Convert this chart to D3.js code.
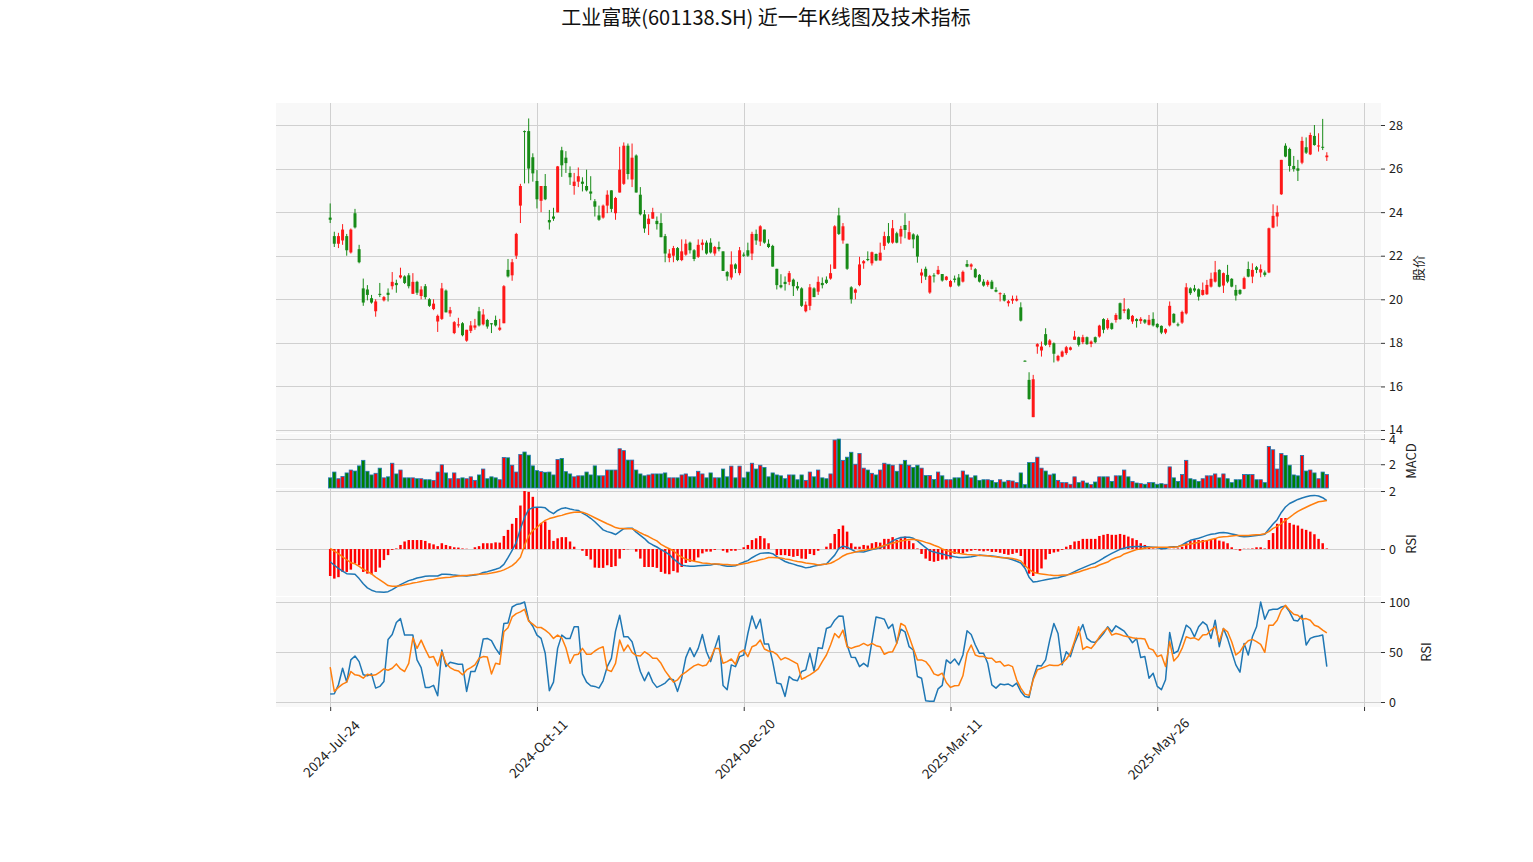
<!DOCTYPE html>
<html><head><meta charset="utf-8">
<script src="https://cdn.jsdelivr.net/npm/d3@7"></script>
<style>
body{margin:0;background:#fff;}
svg{display:block;}
text{font-family:"Noto Sans CJK SC","Noto Sans",sans-serif;}
</style>
</head><body>
<svg id="chart" width="1533" height="862"></svg>
<script>
const title = "工业富联(601138.SH) 近一年K线图及技术指标";
const xTickIndex = [0, 50, 100, 150, 200, 250];
const xTickLabels = ["2024-Jul-24", "2024-Oct-11", "2024-Dec-20", "2025-Mar-11", "2025-May-26", ""];
const priceTicks = [14, 16, 18, 20, 22, 24, 26, 28];
const volTicks = [2, 4];
const macdTicks = [0, 2];
const rsiTicks = [0, 50, 100];

const opens = [23.75,22.9,22.55,22.7,22.9,22.15,23.95,22.3,20.5,20.45,
20.05,19.45,20.25,19.95,20.3,20.6,20.75,21.0,21.05,21.1,
20.25,20.8,20.15,20.6,20.0,19.55,18.98,19.1,20.4,19.35,
18.45,18.8,18.9,18.1,18.55,18.7,19.45,18.85,19.05,18.9,
19.05,18.6,18.9,21.35,21.1,22.0,24.3,27.72,27.72,26.52,
25.43,24.52,25.2,23.64,23.8,23.99,26.84,26.5,25.8,25.2,
25.4,25.4,25.2,24.95,24.5,23.85,23.75,24.3,25.0,23.95,
24.9,25.3,27.05,25.5,26.6,24.8,23.9,23.45,23.7,23.6,
23.5,22.9,21.9,22.0,22.35,21.8,22.05,22.6,22.25,21.95,
22.5,22.6,22.6,22.1,22.4,22.2,21.25,21.0,21.6,21.2,
22.05,22.25,22.1,23.0,22.65,23.2,22.55,22.45,21.4,20.65,
20.8,20.8,20.9,20.6,20.5,19.45,19.7,20.5,20.35,20.75,
20.9,20.95,21.4,23.85,22.7,22.55,20.55,20.3,20.65,21.65,
21.85,21.65,22.08,21.78,22.45,22.9,22.6,23.03,22.88,23.41,
22.75,22.98,22.92,21.09,21.4,20.31,21.1,21.16,21.16,20.89,
20.58,20.95,21.0,20.81,21.62,21.5,21.38,21.12,20.81,20.66,
20.81,20.43,20.25,20.2,19.82,19.94,19.94,19.63,17.18,16.3,
14.59,17.83,17.65,18.4,17.91,17.98,17.19,17.37,17.53,17.68,
18.14,18.26,18.03,18.26,17.95,18.26,18.29,19.09,18.67,18.9,
19.05,19.82,19.47,19.54,18.98,19.09,19.0,19.06,18.83,19.1,
18.87,18.78,18.47,18.8,19.33,18.85,18.93,19.35,20.5,20.5,
20.46,20.2,20.23,20.58,20.81,21.35,20.63,21.12,20.94,20.43,
20.43,20.48,21.39,21.04,21.47,21.23,21.23,21.23,23.29,23.8,
24.82,27.05,26.9,26.12,26.01,26.27,26.98,26.65,27.5,27.03,
27.0,26.52];

const highs = [24.4,23.1,23.05,23.45,23.0,23.25,24.15,22.5,20.95,20.65,
20.2,20.0,20.75,20.15,20.5,21.25,20.9,21.45,21.1,21.2,
21.2,20.85,20.6,20.7,20.05,20.0,19.3,20.75,20.45,19.65,
19.0,19.15,18.95,18.6,19.0,19.1,19.65,19.55,19.1,18.9,
19.25,19.1,20.65,21.85,21.85,23.05,25.3,27.75,28.3,26.7,
25.93,25.2,25.75,24.1,24.2,26.12,27.0,26.8,26.1,25.8,
26.05,25.6,25.95,25.65,24.6,24.3,24.35,25.0,25.0,24.7,
27.0,27.2,27.15,27.15,26.65,25.15,24.1,23.9,24.2,23.8,
23.95,23.0,22.3,22.45,22.4,22.75,22.75,22.65,22.3,22.75,
22.75,22.7,22.8,22.45,22.65,22.2,21.3,22.2,21.65,22.4,
22.15,22.6,23.1,23.2,23.4,23.2,22.75,22.5,21.4,21.15,
21.05,21.3,20.95,20.8,20.55,19.9,20.7,20.55,21.05,21.0,
21.05,21.6,23.4,24.2,23.5,22.55,20.6,20.5,21.95,21.8,
22.2,22.19,22.1,22.6,23.1,23.5,23.64,23.1,23.37,23.95,
23.6,23.03,22.98,21.4,21.5,21.12,21.2,21.53,21.16,21.07,
20.89,21.09,21.16,21.32,21.8,21.65,21.43,21.16,20.92,20.89,
20.89,20.55,20.32,20.28,19.97,20.17,20.17,19.86,17.2,16.65,
16.53,17.98,18.06,18.67,18.17,18.02,17.45,17.65,17.86,17.83,
18.55,18.29,18.37,18.29,18.11,18.29,18.83,19.13,19.13,18.93,
19.36,19.85,20.05,19.59,19.28,19.13,19.18,19.09,19.28,19.4,
18.9,18.8,18.67,19.9,19.36,18.93,19.48,20.74,20.55,20.66,
20.5,20.77,20.89,21.22,21.76,21.38,21.23,21.58,20.97,20.66,
20.46,21.04,21.73,21.65,21.53,21.6,21.32,23.29,24.36,24.3,
26.4,27.16,26.96,26.58,26.4,27.46,27.43,27.65,28.0,27.62,
28.28,26.75];

const lows = [23.5,22.4,22.35,22.5,22.0,22.1,23.25,21.65,19.7,19.95,
19.8,19.2,20.1,19.9,19.9,20.45,20.3,20.95,20.7,20.5,
20.25,20.2,20.0,20.0,19.65,19.5,18.5,19.05,19.4,19.2,
18.4,18.7,18.3,18.05,18.45,18.6,18.75,18.8,18.65,18.45,
18.75,18.55,18.9,21.0,20.85,21.85,23.5,25.32,25.32,25.4,
24.17,24.0,24.55,23.2,23.6,23.99,25.62,25.8,25.25,24.8,
25.15,24.95,24.95,24.55,23.8,23.6,23.7,23.95,24.0,23.65,
24.9,25.25,25.5,25.15,24.9,23.85,23.05,22.95,23.7,23.2,
22.85,21.7,21.7,21.7,21.75,21.75,22.0,22.1,21.75,21.9,
22.25,22.05,22.1,22.0,22.2,21.3,20.85,20.9,21.2,21.1,
21.95,21.95,21.8,22.5,22.45,22.55,22.35,21.5,20.45,20.5,
20.4,20.65,20.15,20.4,19.65,19.4,19.5,20.1,20.2,20.5,
20.7,20.9,21.4,22.95,22.55,21.35,19.8,20.0,20.6,21.4,
21.75,21.55,21.75,21.78,22.27,22.55,22.55,22.57,22.55,22.8,
22.72,22.34,21.68,20.74,20.89,20.25,20.77,21.12,20.81,20.86,
20.55,20.77,20.58,20.77,21.47,21.35,20.97,20.77,20.58,20.58,
20.46,20.32,19.9,19.9,19.67,19.79,19.9,18.98,17.15,15.39,
14.59,17.5,17.37,17.86,17.8,17.1,17.14,17.34,17.45,17.65,
18.14,17.83,17.94,17.91,17.8,17.98,18.24,18.44,18.6,18.6,
18.93,19.06,19.36,19.06,18.87,18.7,18.87,18.87,18.8,18.75,
18.67,18.4,18.4,18.75,18.9,18.75,18.87,19.3,20.2,20.33,
19.94,20.17,20.2,20.54,20.77,20.55,20.29,20.74,20.55,19.94,
20.2,20.46,21.01,20.74,21.2,21.01,21.04,21.2,23.26,23.34,
24.79,26.52,25.86,25.86,25.43,26.2,26.67,26.62,27.05,26.78,
26.85,26.35];

const closes = [23.65,22.55,22.9,23.2,22.25,23.2,23.3,21.7,19.85,20.2,
19.85,19.9,20.2,20.1,20.2,20.8,20.65,21.1,20.75,20.6,
20.8,20.3,20.45,20.1,19.7,19.8,19.24,20.5,19.4,19.5,
18.95,18.85,18.35,18.6,18.8,18.8,18.8,19.3,18.75,18.85,
18.8,18.7,20.6,21.05,21.7,23.0,25.2,27.68,26.0,25.78,
24.59,25.2,24.59,23.53,23.7,26.1,26.15,26.25,25.6,25.4,
25.65,25.3,25.0,24.85,24.25,23.65,24.3,24.8,24.15,24.65,
25.95,27.05,25.75,26.5,24.9,23.9,23.25,23.7,24.0,23.45,
22.85,22.1,22.1,22.35,21.8,22.2,22.55,22.25,21.85,22.5,
22.6,22.1,22.15,22.4,22.3,21.3,21.05,21.6,21.4,22.25,
22.0,22.0,23.0,22.7,23.35,22.6,22.4,21.5,20.65,20.55,
20.7,21.2,20.6,20.5,19.7,19.75,20.55,20.1,20.8,20.65,
20.75,21.2,23.35,23.0,23.35,21.4,20.0,20.45,21.6,21.75,
21.8,22.16,21.78,22.14,22.9,22.6,23.26,22.6,23.23,23.18,
23.08,22.75,21.96,21.23,21.04,21.07,21.05,21.35,20.86,21.04,
20.84,20.89,20.63,21.26,21.5,21.6,21.01,20.81,20.63,20.81,
20.48,20.35,20.28,19.94,19.91,20.02,20.02,19.02,17.17,15.42,
16.33,17.94,17.83,17.91,18.11,17.5,17.4,17.6,17.8,17.79,
18.29,17.91,18.26,17.94,18.06,18.03,18.79,18.6,19.05,18.64,
19.28,19.09,19.54,19.09,19.24,19.0,19.1,18.93,19.06,18.8,
18.72,18.47,18.63,19.7,18.93,18.8,19.42,20.55,20.28,20.4,
20.12,20.43,20.66,20.94,21.24,20.58,21.2,20.81,20.58,20.17,
20.25,20.97,21.04,21.35,21.35,21.38,21.12,23.26,23.83,23.99,
26.4,26.55,26.12,25.98,25.9,27.27,26.73,27.54,27.08,27.06,
26.96,26.6];

const volumes = [0.92,1.38,0.85,1.03,1.31,1.54,1.46,1.87,2.31,1.44,
1.15,1.28,1.69,0.92,1.00,2.08,1.23,1.54,0.92,0.92,
0.92,0.85,0.85,0.77,0.77,0.72,1.38,1.95,1.31,0.85,
1.31,0.85,0.92,0.85,1.00,0.72,1.15,1.62,0.85,1.00,
0.92,0.77,2.54,2.51,1.92,1.38,2.77,2.97,2.72,1.87,
1.49,1.41,1.36,1.38,1.15,2.38,2.46,1.41,1.23,1.00,
1.08,1.08,1.38,1.15,1.87,1.08,1.08,1.54,1.54,1.54,
3.23,3.08,2.33,2.33,1.54,1.23,1.08,1.15,1.23,1.23,
1.23,1.31,0.92,0.92,0.92,1.15,1.23,1.00,1.00,1.44,
1.23,0.92,1.31,0.92,0.92,1.62,1.00,1.85,0.92,1.85,
0.92,1.38,2.08,1.62,1.92,1.74,1.00,1.31,1.15,1.08,
0.85,1.15,1.15,0.77,1.15,0.72,1.38,1.00,1.54,0.92,
0.85,1.23,3.92,4.00,2.31,2.56,2.95,2.00,2.85,1.69,
1.54,1.28,1.15,1.54,2.08,2.00,1.92,1.44,2.00,2.31,
1.92,1.74,1.92,1.69,1.10,1.10,0.79,1.38,1.08,0.77,
0.77,0.92,0.92,1.46,1.15,0.92,1.08,0.72,0.77,0.77,
0.72,0.54,0.77,0.59,0.72,0.67,0.54,1.31,0.38,2.13,
2.13,2.56,1.69,1.46,1.15,1.23,0.72,0.54,0.54,0.41,
1.00,0.54,0.67,0.51,0.38,0.59,1.00,1.00,1.00,0.64,
1.08,1.08,1.54,1.00,0.64,0.51,0.46,0.41,0.54,0.54,
0.41,0.46,0.41,1.79,0.92,0.64,1.18,2.31,0.85,0.77,
0.64,0.85,1.08,1.08,1.23,0.92,1.23,0.85,0.54,0.77,
0.77,1.18,1.18,1.18,0.77,0.77,0.54,3.41,3.15,1.62,
2.85,2.69,1.92,1.15,1.08,2.69,1.46,1.54,1.31,0.85,
1.38,1.18];

const macdLine = [-0.44,-0.56,-0.67,-0.76,-0.85,-0.86,-0.87,-1.02,-1.20,-1.34,
-1.42,-1.47,-1.48,-1.49,-1.47,-1.40,-1.31,-1.23,-1.16,-1.09,
-1.05,-1.00,-0.97,-0.94,-0.93,-0.93,-0.93,-0.87,-0.87,-0.88,
-0.90,-0.91,-0.92,-0.93,-0.91,-0.90,-0.87,-0.81,-0.78,-0.74,
-0.70,-0.65,-0.53,-0.30,-0.05,0.23,0.70,1.09,1.36,1.43,
1.44,1.44,1.42,1.30,1.22,1.33,1.40,1.42,1.38,1.35,
1.33,1.24,1.16,1.06,0.94,0.80,0.66,0.60,0.56,0.50,
0.60,0.70,0.72,0.72,0.58,0.47,0.36,0.22,0.14,0.07,
-0.02,-0.10,-0.19,-0.34,-0.45,-0.56,-0.58,-0.59,-0.59,-0.58,
-0.57,-0.56,-0.55,-0.52,-0.53,-0.57,-0.59,-0.59,-0.58,-0.51,
-0.45,-0.40,-0.30,-0.22,-0.15,-0.14,-0.13,-0.16,-0.26,-0.35,
-0.43,-0.48,-0.52,-0.57,-0.60,-0.65,-0.63,-0.59,-0.56,-0.53,
-0.52,-0.36,-0.21,0.02,0.10,0.06,-0.01,-0.09,-0.09,-0.10,
-0.06,-0.02,0.01,0.05,0.10,0.19,0.28,0.35,0.40,0.41,
0.41,0.37,0.28,0.16,0.05,-0.06,-0.10,-0.14,-0.17,-0.21,
-0.24,-0.27,-0.29,-0.29,-0.28,-0.27,-0.24,-0.21,-0.22,-0.23,
-0.24,-0.26,-0.28,-0.30,-0.33,-0.37,-0.42,-0.48,-0.66,-0.97,
-1.14,-1.12,-1.09,-1.06,-1.03,-1.01,-0.99,-0.95,-0.91,-0.85,
-0.78,-0.71,-0.65,-0.59,-0.53,-0.48,-0.40,-0.31,-0.23,-0.15,
-0.08,-0.01,0.03,0.07,0.08,0.09,0.09,0.08,0.07,0.06,
0.05,0.01,0.02,0.07,0.08,0.08,0.14,0.23,0.30,0.34,
0.37,0.42,0.47,0.51,0.53,0.56,0.57,0.55,0.52,0.49,
0.44,0.42,0.43,0.45,0.47,0.48,0.51,0.69,0.86,1.01,
1.26,1.45,1.57,1.64,1.71,1.76,1.80,1.84,1.85,1.83,
1.77,1.67];

const signalLine = [0.02,-0.07,-0.16,-0.27,-0.37,-0.47,-0.51,-0.60,-0.70,-0.77,
-0.86,-0.97,-1.06,-1.16,-1.26,-1.28,-1.28,-1.27,-1.23,-1.21,
-1.17,-1.15,-1.12,-1.09,-1.07,-1.05,-1.02,-1.00,-0.98,-0.97,
-0.95,-0.93,-0.91,-0.91,-0.90,-0.88,-0.87,-0.86,-0.85,-0.83,
-0.80,-0.77,-0.72,-0.65,-0.57,-0.45,-0.28,0.12,0.45,0.64,
0.74,0.88,0.99,1.05,1.09,1.13,1.16,1.21,1.24,1.27,
1.28,1.27,1.22,1.15,1.08,1.01,0.94,0.87,0.81,0.74,
0.71,0.71,0.70,0.70,0.64,0.56,0.49,0.43,0.35,0.28,
0.16,0.08,0.01,-0.06,-0.19,-0.28,-0.35,-0.38,-0.42,-0.45,
-0.48,-0.49,-0.51,-0.52,-0.52,-0.53,-0.53,-0.55,-0.55,-0.53,
-0.51,-0.48,-0.44,-0.41,-0.37,-0.34,-0.29,-0.29,-0.30,-0.31,
-0.34,-0.36,-0.40,-0.43,-0.45,-0.48,-0.50,-0.52,-0.55,-0.53,
-0.52,-0.49,-0.42,-0.34,-0.24,-0.17,-0.14,-0.10,-0.07,-0.05,
-0.02,0.00,0.03,0.08,0.12,0.16,0.20,0.24,0.28,0.30,
0.33,0.34,0.31,0.28,0.23,0.19,0.13,0.08,0.00,-0.05,
-0.09,-0.12,-0.15,-0.17,-0.19,-0.20,-0.21,-0.22,-0.22,-0.23,
-0.26,-0.27,-0.29,-0.30,-0.31,-0.33,-0.36,-0.41,-0.57,-0.70,
-0.80,-0.84,-0.86,-0.88,-0.90,-0.91,-0.91,-0.90,-0.90,-0.87,
-0.83,-0.79,-0.74,-0.70,-0.65,-0.62,-0.55,-0.50,-0.45,-0.36,
-0.30,-0.26,-0.17,-0.12,-0.07,-0.02,0.00,0.03,0.05,0.05,
0.06,0.06,0.06,0.06,0.06,0.08,0.13,0.15,0.17,0.20,
0.23,0.26,0.29,0.33,0.36,0.41,0.42,0.43,0.45,0.47,
0.47,0.47,0.47,0.48,0.49,0.50,0.53,0.60,0.71,0.78,
0.88,0.99,1.09,1.20,1.30,1.37,1.44,1.51,1.57,1.63,
1.65,1.67];

const macdHist = [-0.93,-1.02,-0.97,-0.79,-0.79,-0.71,-0.50,-0.56,-0.79,-0.85,
-0.87,-0.79,-0.64,-0.38,-0.21,-0.03,0.02,0.14,0.26,0.31,
0.31,0.31,0.31,0.28,0.20,0.16,0.10,0.20,0.14,0.10,
0.06,0.05,0.02,0.01,0.00,0.06,0.10,0.20,0.20,0.20,
0.23,0.22,0.45,0.66,0.87,1.07,1.50,2.00,1.97,1.80,
1.42,0.90,0.95,0.66,0.28,0.37,0.41,0.41,0.26,0.08,
0.00,-0.06,-0.24,-0.36,-0.64,-0.65,-0.65,-0.56,-0.62,-0.59,
-0.33,-0.03,-0.01,0.00,-0.09,-0.33,-0.62,-0.62,-0.62,-0.65,
-0.79,-0.85,-0.87,-0.76,-0.81,-0.62,-0.48,-0.44,-0.41,-0.29,
-0.15,-0.09,-0.09,-0.03,0.00,-0.06,-0.12,-0.06,-0.06,-0.01,
0.06,0.14,0.31,0.37,0.45,0.37,0.20,0.00,-0.21,-0.21,
-0.21,-0.24,-0.27,-0.24,-0.33,-0.34,-0.17,-0.21,-0.06,0.00,
0.08,0.20,0.52,0.69,0.81,0.60,0.20,0.08,0.08,0.14,
0.12,0.20,0.24,0.22,0.35,0.35,0.41,0.31,0.37,0.43,
0.29,0.20,0.02,-0.17,-0.33,-0.41,-0.44,-0.41,-0.36,-0.36,
-0.33,-0.17,-0.15,-0.15,-0.09,-0.06,-0.03,-0.06,-0.08,-0.06,
-0.10,-0.10,-0.13,-0.17,-0.20,-0.17,-0.13,-0.24,-0.62,-0.85,
-0.93,-0.83,-0.67,-0.36,-0.17,-0.12,-0.09,-0.03,0.08,0.14,
0.26,0.28,0.35,0.35,0.35,0.35,0.45,0.49,0.52,0.49,
0.49,0.52,0.49,0.43,0.37,0.31,0.20,0.14,0.08,0.02,
0.01,-0.01,0.01,0.01,0.01,0.02,0.08,0.20,0.28,0.31,
0.31,0.31,0.31,0.31,0.37,0.29,0.26,0.20,0.06,-0.01,
-0.06,0.01,0.01,0.02,0.06,0.06,0.02,0.31,0.55,0.87,
1.07,1.07,0.90,0.84,0.81,0.70,0.66,0.60,0.51,0.35,
0.20,0.02];

const rsiFast = [7.9,8.3,17.2,33.8,19.9,42.1,46.0,40.4,27.2,26.2,
28.1,13.9,15.6,20.5,62.6,67.5,79.5,83.4,66.9,66.9,
66.9,42.1,34.4,14.6,14.6,16.6,6.3,52.0,35.4,39.7,
38.7,37.7,37.7,10.6,30.5,30.5,42.1,62.9,63.6,61.3,
53.6,47.7,78.5,79.1,95.0,97.4,98.3,100.0,81.8,75.8,
66.9,63.6,48.7,11.3,19.9,53.6,66.9,63.6,63.6,75.2,
75.2,28.1,19.9,16.2,15.6,13.9,21.2,35.4,43.7,70.9,
86.8,65.2,65.2,60.3,45.4,30.5,21.2,29.8,19.9,14.6,
16.6,18.9,23.2,22.2,10.6,23.8,44.4,54.3,45.4,53.6,
67.5,50.3,40.4,53.6,66.2,16.6,12.3,37.1,35.4,45.4,
47.0,68.5,86.1,73.5,82.8,57.9,57.9,40.4,18.9,17.9,
5.6,25.5,22.2,21.2,30.5,32.1,48.7,31.1,54.3,53.6,
73.5,75.2,81.8,86.1,85.8,57.0,44.7,44.4,35.4,38.7,
35.4,60.3,85.1,84.1,82.8,73.5,77.8,58.6,72.8,70.2,
55.3,52.0,25.5,23.8,1.3,0.7,0.7,13.2,16.6,42.1,
38.7,43.0,37.1,47.0,71.2,67.5,57.0,48.7,48.7,38.7,
17.2,13.9,17.9,17.2,17.9,15.6,18.9,10.6,5.6,4.6,
23.8,36.4,36.1,42.1,61.9,78.5,68.5,37.1,50.3,45.4,
58.6,68.5,77.5,63.6,60.3,59.6,63.6,68.5,75.2,70.2,
76.2,73.5,70.9,65.2,59.3,63.6,44.4,45.4,23.8,28.8,
15.6,12.3,22.2,69.5,48.7,51.0,63.6,76.8,73.5,65.2,
75.2,80.1,76.8,63.6,81.8,55.3,73.5,63.6,50.3,37.1,
29.8,58.6,47.0,65.2,75.2,100.0,82.8,91.7,92.7,92.7,
95.0,96.0,90.1,81.8,81.1,86.8,57.0,63.6,65.2,65.9,
66.9,35.4];

const rsiSlow = [34.8,10.6,14.6,17.9,19.9,30.5,27.2,26.5,23.8,27.8,
26.5,27.2,29.8,33.1,31.8,33.8,38.1,33.1,30.5,38.7,
64.2,53.6,61.9,52.6,44.4,45.4,36.1,50.3,38.7,34.4,
32.1,31.1,27.2,32.1,34.4,37.1,43.7,45.4,45.0,28.1,
38.7,37.7,70.2,74.2,85.1,88.4,90.1,92.7,80.8,77.8,
74.5,74.5,71.9,68.5,63.6,66.9,64.2,54.3,38.7,47.0,
47.7,53.6,47.7,47.7,51.0,53.6,55.3,32.1,30.5,38.7,
61.9,51.0,57.0,49.7,46.4,46.0,50.3,47.7,43.7,43.7,
38.7,31.1,25.5,19.9,22.2,27.2,29.8,33.1,36.1,37.7,
36.1,37.1,43.7,53.6,53.6,38.7,40.4,43.0,37.7,49.7,
52.0,45.4,55.3,57.0,61.9,53.0,51.0,50.3,47.7,42.1,
44.4,42.7,40.4,38.1,22.8,24.8,27.2,29.8,33.1,40.4,
47.0,57.0,68.5,64.2,71.9,55.3,53.6,55.3,56.3,58.6,
56.3,58.6,56.3,55.3,47.7,49.7,50.3,58.6,78.5,76.2,
65.2,53.6,42.1,42.1,40.4,35.4,28.1,26.5,28.8,19.5,
14.6,16.2,16.6,26.2,48.7,57.0,47.0,45.4,45.4,43.7,
43.7,39.7,40.4,36.1,37.1,35.4,22.2,13.9,7.9,6.6,
22.2,32.1,33.8,35.4,37.1,36.4,36.4,38.7,42.7,48.7,
60.9,75.2,52.6,55.3,53.6,58.6,65.2,70.2,74.2,66.9,
68.5,67.5,65.9,65.2,64.2,63.6,63.6,62.9,53.6,52.0,
45.4,47.0,35.4,60.3,41.1,45.4,53.6,65.2,63.6,64.2,
61.9,66.9,67.5,71.9,75.2,60.3,73.5,70.2,60.3,47.0,
50.3,57.0,61.3,62.6,60.3,57.6,49.7,76.8,76.8,81.8,
91.7,96.7,91.7,87.7,86.8,82.8,83.4,81.8,76.8,75.2,
71.9,69.2];

// ---------- drawing ----------
const FONT = '"Noto Sans CJK SC","Noto Sans",sans-serif';
const svg = d3.select("#chart");
const n = closes.length;
const X0 = 276, X1 = 1381;
const x = d3.scaleLinear().domain([-13.1, n - 1 + 13.1]).range([X0, X1]);
const step = x(1) - x(0);

const UP = "#ff0000", DOWN = "#008000";
const BG = "#f8f8f8", GRID = "#d0d0d0";

const panels = {
  price: {top: 103, bottom: 433},
  vol:   {top: 434, bottom: 488},
  macd:  {top: 489, bottom: 596},
  rsi:   {top: 597, bottom: 707}
};

const yPrice = d3.scaleLinear().domain([13.862, 29.01]).range([panels.price.bottom, panels.price.top]);
const yVol = d3.scaleLinear().domain([0.3 * d3.min(volumes), 1.1 * d3.max(volumes)]).range([panels.vol.bottom, panels.vol.top]);
const yMacd = d3.scaleLinear().domain([-1.62, 2.07]).range([panels.macd.bottom, panels.macd.top]);
const yRsi = d3.scaleLinear().domain([-5, 105]).range([panels.rsi.bottom, panels.rsi.top]);

function panelFrame(p, yScale, ticks) {
  const g = svg.append("g");
  g.append("rect").attr("x", X0).attr("y", p.top).attr("width", X1 - X0).attr("height", p.bottom - p.top).attr("fill", BG);
  g.selectAll(".hg").data(ticks).enter().append("line")
    .attr("x1", X0).attr("x2", X1)
    .attr("y1", d => Math.round(yScale(d)) + 0.5).attr("y2", d => Math.round(yScale(d)) + 0.5)
    .attr("stroke", GRID).attr("stroke-width", 1);
  g.selectAll(".vg").data(xTickIndex).enter().append("line")
    .attr("x1", d => Math.round(x(d)) + 0.5).attr("x2", d => Math.round(x(d)) + 0.5)
    .attr("y1", p.top).attr("y2", p.bottom)
    .attr("stroke", GRID).attr("stroke-width", 1);
  const ax = svg.append("g").attr("transform", `translate(${X1},0)`)
    .call(d3.axisRight(yScale).tickValues(ticks).tickSize(4).tickPadding(4).tickFormat(d3.format("d")));
  ax.select(".domain").remove();
  ax.selectAll("text").attr("font-size", 12.5).attr("fill", "#222").style("font-family", FONT);
  ax.selectAll("line").attr("stroke", "#333");
  return g;
}

panelFrame(panels.price, yPrice, priceTicks);
panelFrame(panels.vol, yVol, volTicks);
panelFrame(panels.macd, yMacd, macdTicks);
panelFrame(panels.rsi, yRsi, rsiTicks);

const idx = d3.range(n);
const isUp = i => closes[i] >= opens[i];

// candles
const cw = step * 0.72;
const cg = svg.append("g").attr("opacity", 0.9);
cg.selectAll(".wick").data(idx).enter().append("line")
  .attr("x1", i => x(i)).attr("x2", i => x(i))
  .attr("y1", i => yPrice(highs[i])).attr("y2", i => yPrice(lows[i]))
  .attr("stroke", i => isUp(i) ? UP : DOWN).attr("stroke-width", 1);
cg.selectAll(".body").data(idx).enter().append("rect")
  .attr("x", i => x(i) - cw / 2).attr("width", cw)
  .attr("y", i => yPrice(Math.max(opens[i], closes[i])))
  .attr("height", i => Math.max(1, Math.abs(yPrice(opens[i]) - yPrice(closes[i]))))
  .attr("fill", i => isUp(i) ? UP : DOWN);

// volume
const vw = step * 0.8;
svg.append("g").selectAll("rect").data(idx).enter().append("rect")
  .attr("x", i => x(i) - vw / 2).attr("width", vw)
  .attr("y", i => yVol(volumes[i]))
  .attr("height", i => panels.vol.bottom - yVol(volumes[i]))
  .attr("fill", i => isUp(i) ? UP : DOWN)
  .attr("stroke", "#1f77b4").attr("stroke-width", 0.8);

// MACD histogram
const hw = step * 0.6;
svg.append("g").selectAll("rect").data(idx).enter().append("rect")
  .attr("x", i => x(i) - hw / 2).attr("width", hw)
  .attr("y", i => Math.min(yMacd(0), yMacd(macdHist[i])))
  .attr("height", i => Math.abs(yMacd(macdHist[i]) - yMacd(0)))
  .attr("fill", "#ff0000");

function drawLine(vals, yScale, color) {
  svg.append("path").datum(vals)
    .attr("fill", "none").attr("stroke", color).attr("stroke-width", 1.5)
    .attr("stroke-linejoin", "round")
    .attr("d", d3.line().x((d, i) => x(i)).y(d => yScale(d)));
}
drawLine(macdLine, yMacd, "#1f77b4");
drawLine(signalLine, yMacd, "#ff7f0e");
drawLine(rsiFast, yRsi, "#1f77b4");
drawLine(rsiSlow, yRsi, "#ff7f0e");

// bottom axis (labels rotated 45°, centred on the tick like matplotlib)
const bx = svg.append("g").attr("transform", `translate(0,${panels.rsi.bottom})`)
  .call(d3.axisBottom(x).tickValues(xTickIndex).tickSize(4).tickFormat((d, k) => xTickLabels[k]));
bx.select(".domain").remove();
bx.selectAll("line").attr("stroke", "#333");
bx.selectAll("text")
  .attr("font-size", 13.5).attr("fill", "#222").style("font-family", FONT)
  .attr("text-anchor", "middle").attr("dominant-baseline", "central")
  .attr("dy", null).attr("y", 0)
  .attr("transform", "translate(0,41) rotate(-45)");

// axis labels
function vlabel(txt, cx, cy) {
  svg.append("text").attr("transform", `translate(${cx},${cy}) rotate(-90)`)
    .attr("text-anchor", "middle").attr("dominant-baseline", "central")
    .attr("font-size", 13).attr("fill", "#222").text(txt);
}
vlabel("股价", 1417, 268);
vlabel("MACD", 1410, 461);
vlabel("RSI", 1410, 544);
vlabel("RSI", 1425, 652);

svg.append("text").attr("x", 766).attr("y", 16).attr("text-anchor", "middle")
  .attr("dominant-baseline", "central").attr("font-size", 20).attr("fill", "#111").text(title);
</script>
</body></html>
